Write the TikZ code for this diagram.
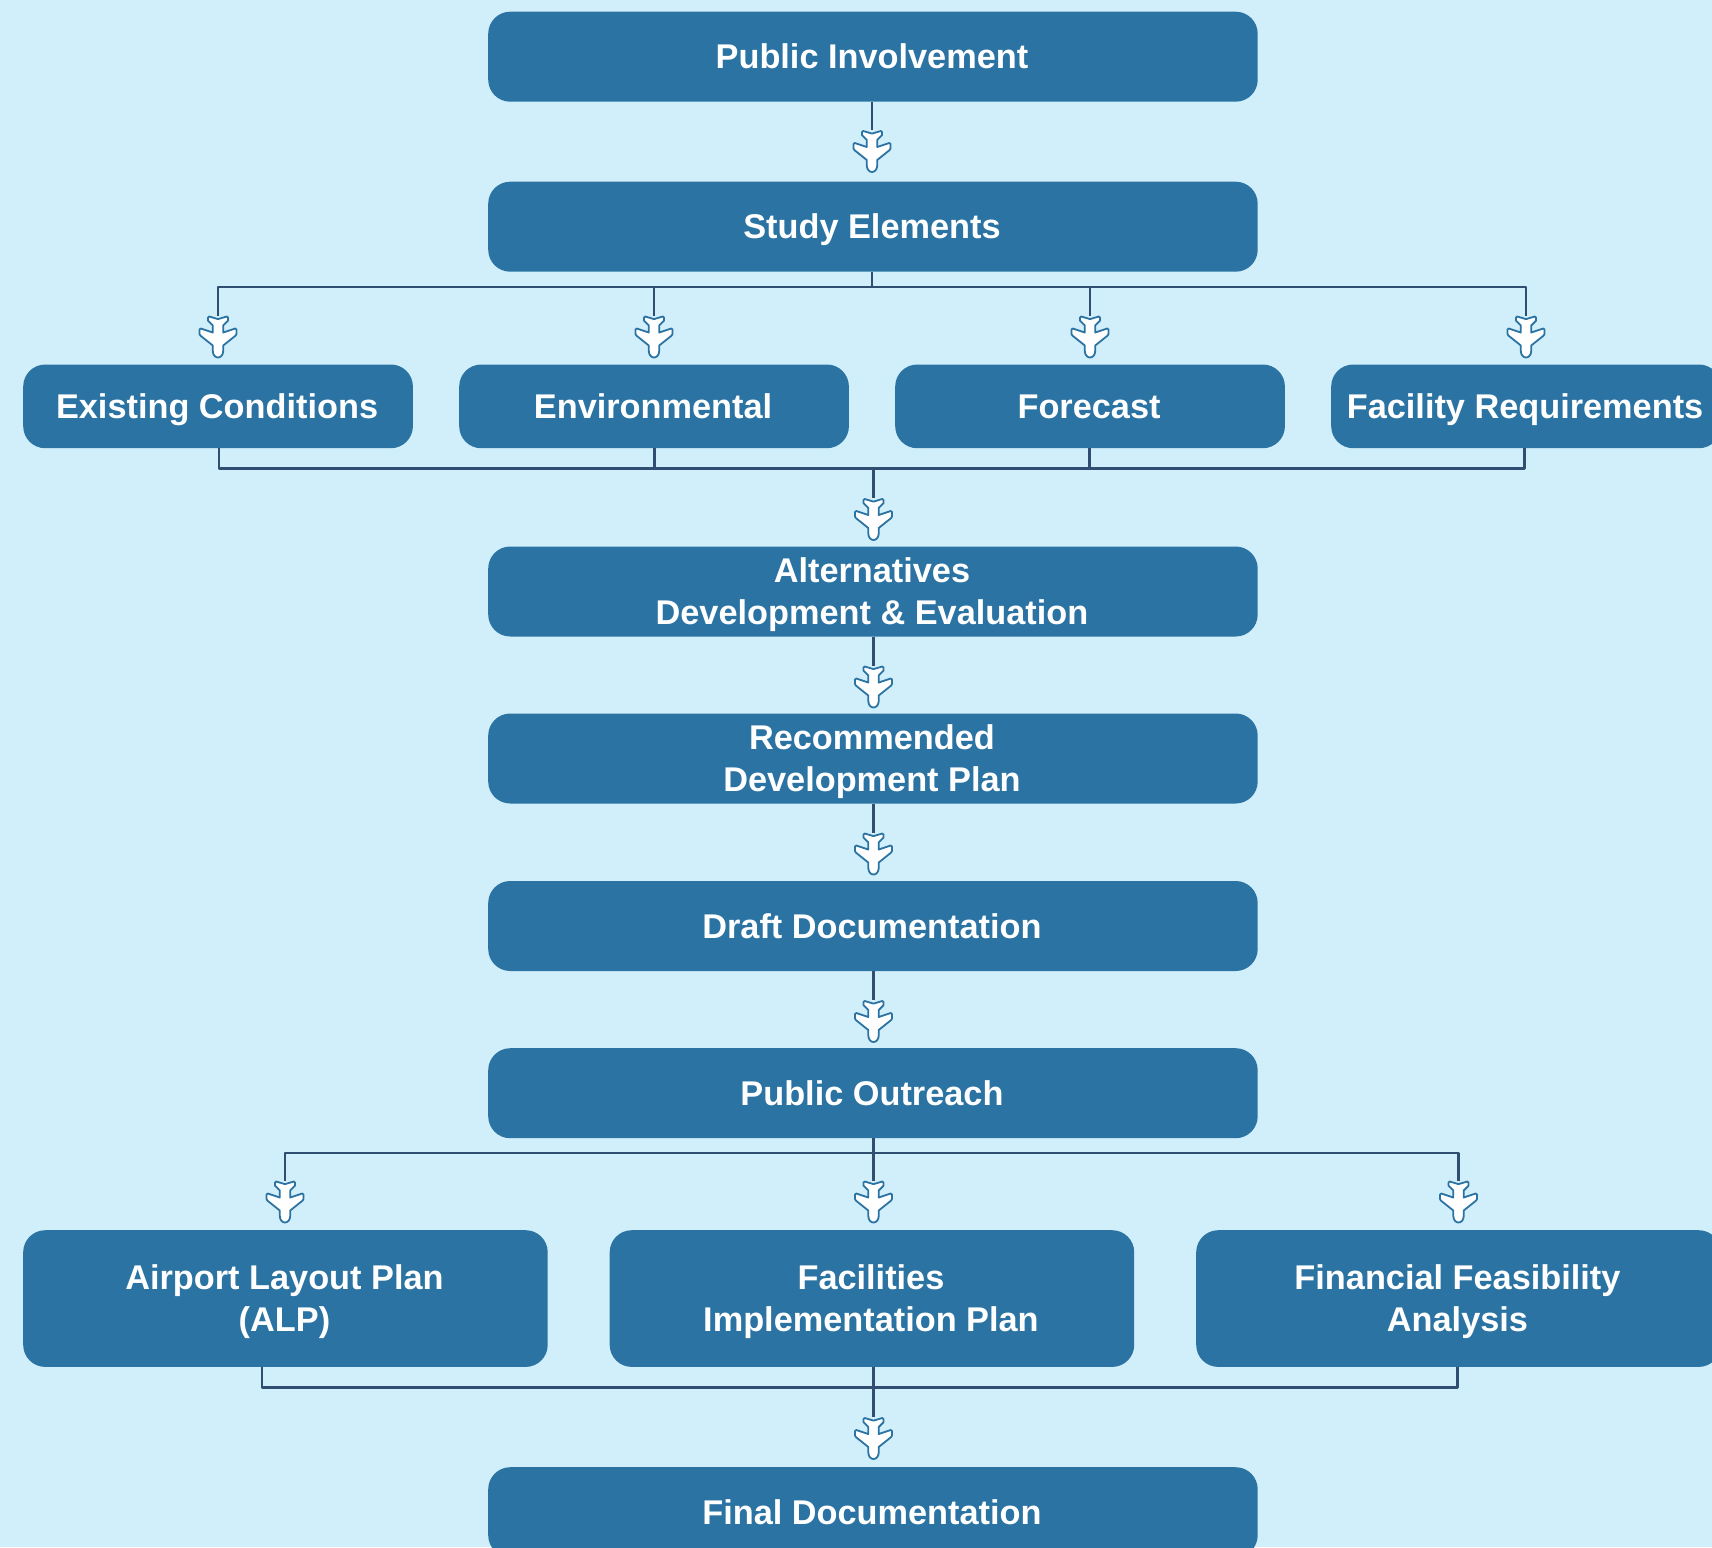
\documentclass[tikz,border=0pt]{standalone}
\usepackage{fontspec}
\setmainfont{Liberation Sans}
\definecolor{bgc}{HTML}{D1EFFB}
\definecolor{boxc}{HTML}{2B73A2}
\definecolor{linec}{HTML}{304D72}
\newcommand{\Tl}{\rule{0pt}{36.3pt}}
\newcommand{\Bl}{\rule[-12pt]{0pt}{12pt}\kern2pt}
\newcommand{\Nl}{\kern2pt\\}
\tikzset{
  box/.style={fill=boxc,draw=none,rounded corners=22pt,text=white,align=center,
    font=\fontsize{34.3}{41.6}\selectfont\bfseries,inner sep=0pt,anchor=north west},
  conn/.style={draw=linec,line width=2.6pt,line join=round},
  plane/.pic={
    \path[fill=white,draw=boxc,line width=1.8pt,line join=round]
      (0,3.6) -- (8.8,1) .. controls (9.7,0.8) and (10,1.2) .. (10,2) -- (10,5.2)
      -- (5.2,10) -- (5.2,17) -- (17.2,13) .. controls (18.1,12.7) and (18.5,13.1) .. (18.5,14) -- (18.5,18.4)
      .. controls (18.5,19.2) and (18.2,19.6) .. (17.7,20) -- (5.2,30) -- (5.2,35.5)
      .. controls (5.2,39.5) and (2.6,42) .. (0,42) .. controls (-2.6,42) and (-5.2,39.5) .. (-5.2,35.5)
      -- (-5.2,30) -- (-17.7,20) .. controls (-18.2,19.6) and (-18.5,19.2) .. (-18.5,18.4) -- (-18.5,14)
      .. controls (-18.5,13.1) and (-18.1,12.7) .. (-17.2,13) -- (-5.2,17) -- (-5.2,10) -- (-10,5.2)
      -- (-10,2) .. controls (-10,1.2) and (-9.7,0.8) .. (-8.8,1) -- cycle;
  }
}
\newcommand{\bx}[6]{\node[box,minimum width=#4pt-#2pt,minimum height=#5pt-#3pt] (#1) at (#2,#3) {#6};}
\begin{document}
\begin{tikzpicture}[x=1pt,y=-1pt]
\useasboundingbox (0,0) rectangle (1712,1547);
\clip (0,0) rectangle (1712,1547);
\fill[bgc] (0,0) rectangle (1712,1547);
\bx{pi}{488}{11.5}{1257.5}{101.5}{\Tl Public Involvement\Bl}
\bx{se}{488}{181.5}{1257.5}{271.5}{\Tl Study Elements\Bl}
\bx{ec}{23}{364.3}{412.7}{448}{\Tl Existing Conditions\Bl}
\bx{en}{459}{364.3}{848.7}{448}{\Tl Environmental\Bl}
\bx{fc}{895}{364.3}{1284.7}{448}{\Tl Forecast\Bl}
\bx{fr}{1331}{364.3}{1720.7}{448}{\Tl Facility Requirements\Bl}
\bx{ad}{488}{546.3}{1257.5}{636.3}{\Tl Alternatives\Nl Development \& Evaluation\Bl}
\bx{rd}{488}{713.3}{1257.5}{803.3}{\Tl Recommended\Nl Development Plan\Bl}
\bx{dd}{488}{880.8}{1257.5}{970.8}{\Tl Draft Documentation\Bl}
\bx{po}{488}{1048}{1257.5}{1138}{\Tl Public Outreach\Bl}
\bx{al}{23}{1230}{547.5}{1366.7}{\Tl Airport Layout Plan\Nl (ALP)\Bl}
\bx{fi}{609.5}{1230}{1134}{1366.7}{\Tl Facilities\Nl Implementation Plan\Bl}
\bx{ff}{1196}{1230}{1720.5}{1366.7}{\Tl Financial Feasibility\Nl Analysis\Bl}
\bx{fd}{488}{1467}{1257.5}{1557}{\Tl Final Documentation\Bl}
% plane positions
\coordinate (p1) at (872,130);
\coordinate (p2) at (218,315.5);
\coordinate (p3) at (654,315.5);
\coordinate (p4) at (1090,315.5);
\coordinate (p5) at (1526,315.5);
\coordinate (p6) at (873.5,498);
\coordinate (p7) at (873.5,665.5);
\coordinate (p8) at (873.5,832.5);
\coordinate (p9) at (873.5,1000);
\coordinate (p10) at (285,1180.5);
\coordinate (p11) at (873.5,1180.5);
\coordinate (p12) at (1458.5,1180.5);
\coordinate (p13) at (873.5,1417);
\coordinate (b1) at (872,287);
\coordinate (b2) at (873.5,468.3);
\coordinate (b3) at (873.5,1153);
\coordinate (b4) at (873.5,1387.3);
% connectors
\draw[conn] (p1|-pi.south) -- (p1);
\draw[conn] (b1|-se.south) -- (b1);
\draw[conn] (p2) -- (p2|-b1) -- (p5|-b1) -- (p5);
\draw[conn] (p3|-b1) -- (p3);
\draw[conn] (p4|-b1) -- (p4);
\draw[conn] (219,448) -- (219,468.3) -- (1524.5,468.3) -- (1524.5,448);
\draw[conn] (654.5,448) -- (654.5,468.3);
\draw[conn] (1089.5,448) -- (1089.5,468.3);
\draw[conn] (b2) -- (p6);
\draw[conn] (p7|-ad.south) -- (p7);
\draw[conn] (p8|-rd.south) -- (p8);
\draw[conn] (p9|-dd.south) -- (p9);
\draw[conn] (b3|-po.south) -- (p11);
\draw[conn] (p10) -- (p10|-b3) -- (p12|-b3) -- (p12);
\draw[conn] (262,1366.7) -- (262,1387.3) -- (1457.5,1387.3) -- (1457.5,1366.7);
\draw[conn] (b4|-fi.south) -- (p13);
% planes
\foreach \p in {p1,p2,p3,p4,p5,p6,p7,p8,p9,p10,p11,p12,p13}{\pic at (\p) {plane};}
\end{tikzpicture}
\end{document}
